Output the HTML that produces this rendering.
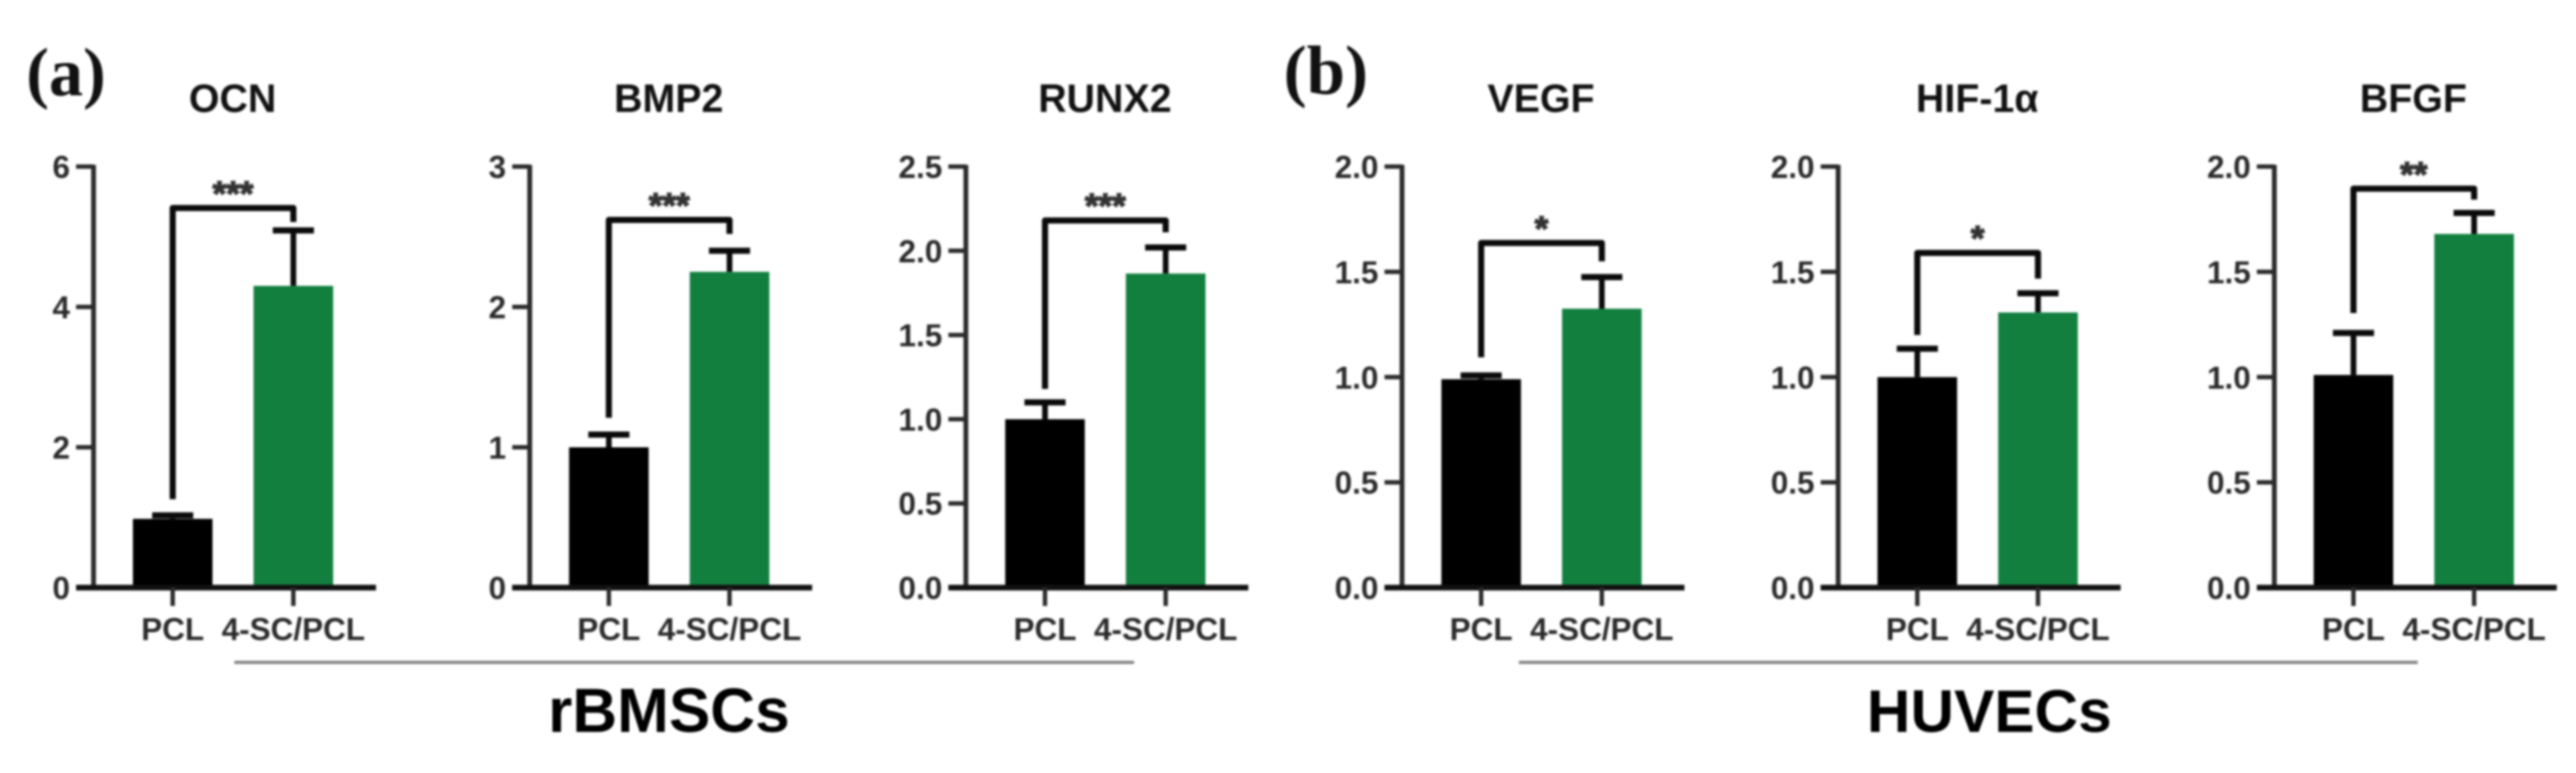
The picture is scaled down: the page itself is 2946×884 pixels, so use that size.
<!DOCTYPE html>
<html lang="en">
<head>
<meta charset="utf-8">
<title>rBMSCs and HUVECs gene expression bar charts</title>
<style>
html,body{margin:0;padding:0;background:#fff;}
body{width:2946px;height:884px;overflow:hidden;}
svg{display:block;filter:blur(1.3px);}
text{font-family:"Liberation Sans",sans-serif;font-weight:bold;}
.serif{font-family:"Liberation Serif",serif;}
</style>
</head>
<body>
<svg id="chart" xmlns="http://www.w3.org/2000/svg" width="2946" height="884" viewBox="0 0 2946 884">
  <rect width="2946" height="884" fill="#ffffff"/>
  <text class="serif" x="30" y="109" font-size="78" fill="#111">(a)</text>
  <text class="serif" x="1468" y="107" font-size="79" fill="#111">(b)</text>
  <line x1="268" x2="1297" y1="757.5" y2="757.5" stroke="#808080" stroke-width="3.5"/>
  <line x1="1737" x2="2765" y1="757.5" y2="757.5" stroke="#808080" stroke-width="3.5"/>
  <text x="765" y="837" font-size="71" text-anchor="middle" fill="#000">rBMSCs</text>
  <text x="2275" y="837" font-size="69" text-anchor="middle" fill="#000">HUVECs</text>
</svg>
<script>
// Data
const genes = ["OCN", "BMP2", "RUNX2", "VEGF", "HIF-1α", "BFGF"];
const categories = ["PCL", "4-SC/PCL"];
const pclMeans = [0.98, 1.0, 1.0, 0.99, 1.0, 1.01];
const pclUpper = [1.03, 1.09, 1.1, 1.008, 1.135, 1.21];
const scMeans = [4.3, 2.25, 1.865, 1.325, 1.307, 1.68];
const scUpper = [5.09, 2.4, 2.02, 1.475, 1.398, 1.78];
const axisMax = [6, 3, 2.5, 2, 2, 2];
const tickLabels = [
  ["0", "2", "4", "6"],
  ["0", "1", "2", "3"],
  ["0.0", "0.5", "1.0", "1.5", "2.0", "2.5"],
  ["0.0", "0.5", "1.0", "1.5", "2.0"],
  ["0.0", "0.5", "1.0", "1.5", "2.0"],
  ["0.0", "0.5", "1.0", "1.5", "2.0"]
];
const significance = ["***", "***", "***", "*", "*", "**"];
const bracketTop = [5.41, 2.62, 2.18, 1.637, 1.59, 1.895];
const bracketLeftEnd = [1.26, 1.21, 1.18, 1.094, 1.2, 1.304];
const bracketRightEnd = [5.21, 2.52, 2.11, 1.55, 1.468, 1.843];

// Layout
const svg = document.getElementById('chart');
const NS = 'http://www.w3.org/2000/svg';
const firstAxisX = 107, panelStep = 498.8;
const baseY = 672, topY = 190.5;
const pclOffset = 90.5, scOffset = 228.5, barWidth = 91, capWidth = 47;

function make(tag, attrs, parent) {
  const node = document.createElementNS(NS, tag);
  for (const k in attrs) node.setAttribute(k, attrs[k]);
  parent.appendChild(node);
  return node;
}

genes.forEach(function (gene, i) {
  const slug = gene.toLowerCase().replace(/[^a-z0-9]+/g, '-');
  const axisX = firstAxisX + panelStep * i;
  const yScale = function (v) { return baseY - (v / axisMax[i]) * (baseY - topY); };
  const pclX = axisX + pclOffset, scX = axisX + scOffset;

  const panel = make('g', {}, svg);
  
  

  const title = make('text', {x: axisX + 159, y: 128, 'font-size': 45, 'text-anchor': 'middle', fill: '#111'}, panel);
  title.textContent = gene;
  
  

  // Error bars, drawn under the bars
  [[pclX, pclMeans[i], pclUpper[i], 'pcl'], [scX, scMeans[i], scUpper[i], 'sc']].forEach(function (e) {
    const stem = make('line', {x1: e[0], x2: e[0], y1: yScale(e[1]), y2: yScale(e[2]), stroke: '#0a0a0a', 'stroke-width': 6.5}, panel);
    
    
    const cap = make('line', {x1: e[0] - capWidth / 2, x2: e[0] + capWidth / 2, y1: yScale(e[2]), y2: yScale(e[2]), stroke: '#0a0a0a', 'stroke-width': 7}, panel);
    
    
  });

  const pclBar = make('rect', {x: pclX - barWidth / 2, y: yScale(pclMeans[i]), width: barWidth, height: baseY - yScale(pclMeans[i]), fill: '#000'}, panel);
  
  

  const scBar = make('rect', {x: scX - barWidth / 2, y: yScale(scMeans[i]), width: barWidth, height: baseY - yScale(scMeans[i]), fill: '#127f3f'}, panel);
  
  

  // Y axis
  const yAxis = make('line', {x1: axisX, x2: axisX, y1: topY - 2, y2: baseY, stroke: '#2a2a2a', 'stroke-width': 5.5}, panel);
  
  

  tickLabels[i].forEach(function (label) {
    const ty = yScale(parseFloat(label));
    const tick = make('line', {x1: axisX - 20, x2: axisX, y1: ty, y2: ty, stroke: '#2a2a2a', 'stroke-width': 5}, panel);
    
    
    const tl = make('text', {x: axisX - 27, y: ty + 13, 'font-size': 36, 'text-anchor': 'end', fill: '#2a2a2a'}, panel);
    tl.textContent = label;
    
    
  });

  // X axis
  const xAxis = make('line', {x1: axisX - 20, x2: axisX + 323, y1: baseY, y2: baseY, stroke: '#111', 'stroke-width': 6.5}, panel);
  
  

  categories.forEach(function (cat, c) {
    const cx = c === 0 ? pclX : scX;
    const xt = make('line', {x1: cx, x2: cx, y1: baseY, y2: 693, stroke: '#2a2a2a', 'stroke-width': 5}, panel);
    
    
    const xl = make('text', {x: cx, y: 732, 'font-size': 36, 'text-anchor': 'middle', fill: '#2a2a2a'}, panel);
    xl.textContent = cat;
    
    
  });

  // Significance bracket
  const bt = yScale(bracketTop[i]);
  const bracket = make('polyline', {
    points: [pclX, yScale(bracketLeftEnd[i]), pclX, bt, scX, bt, scX, yScale(bracketRightEnd[i])].join(' '),
    fill: 'none', stroke: '#0a0a0a', 'stroke-width': 7, 'stroke-linejoin': 'round'
  }, panel);
  
  

  const stars = make('text', {x: (pclX + scX) / 2, y: bt - 3, 'font-size': 40, 'text-anchor': 'middle', fill: '#333', stroke: '#333', 'stroke-width': 1.5}, panel);
  stars.textContent = significance[i];
  
  
});
</script>
</body>
</html>
